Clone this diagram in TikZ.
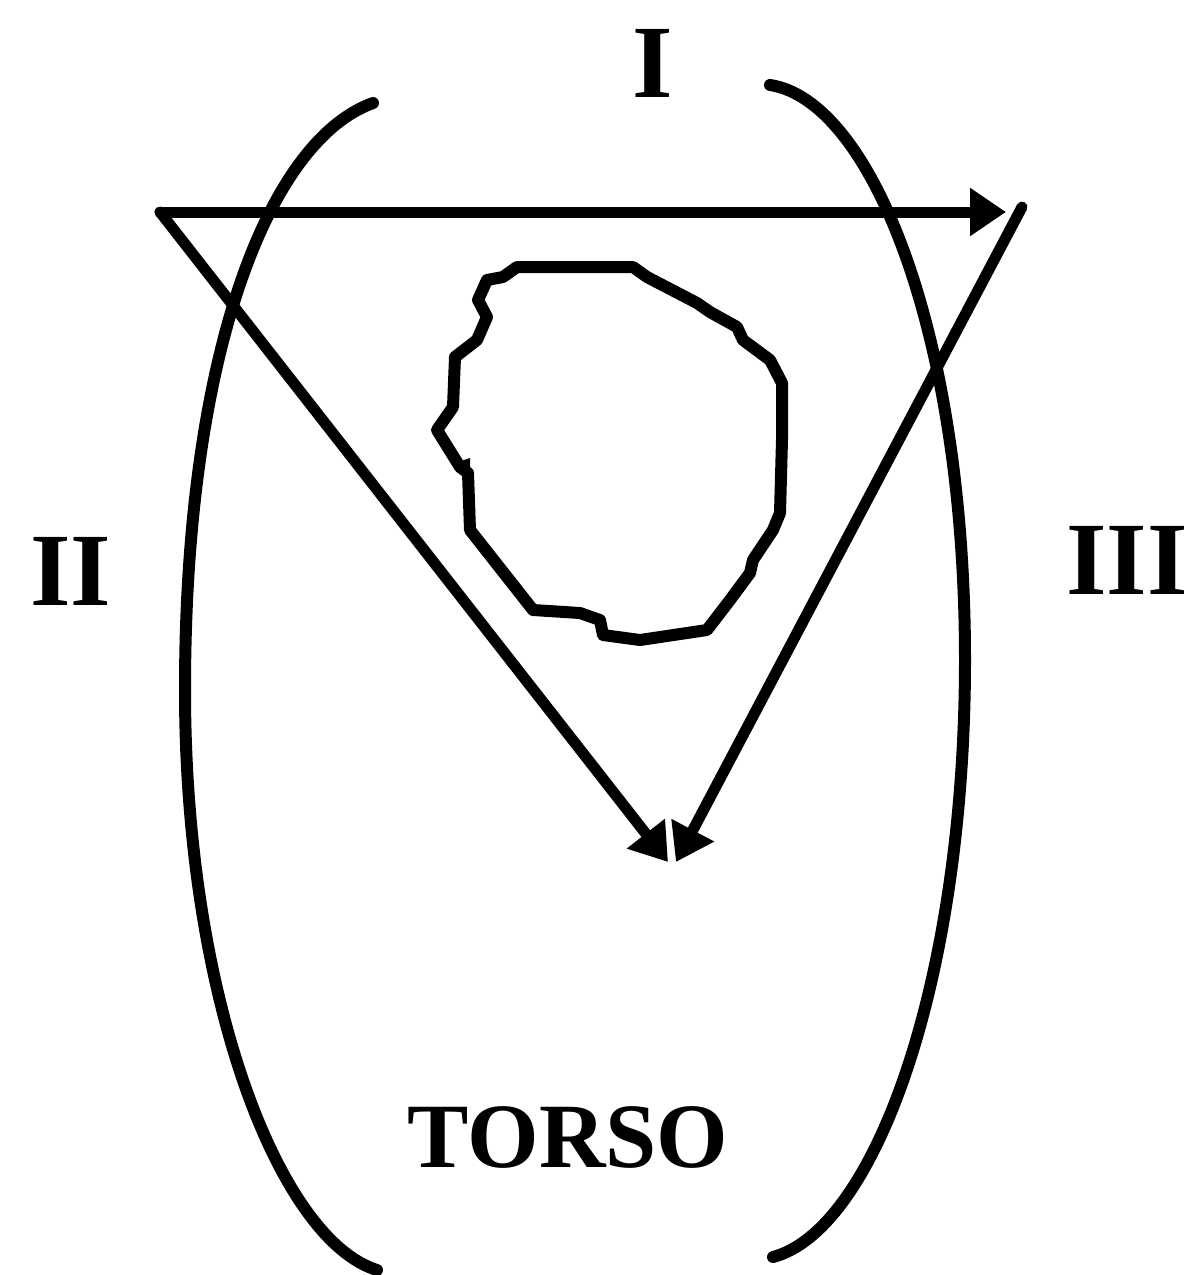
\documentclass[tikz,border=0pt]{standalone}
\usepackage{fontspec}
\setmainfont{Liberation Serif}
\usetikzlibrary{arrows.meta}
\tikzset{
  lead/.style={line width=5.5pt, line cap=round},
  bracket/.style={line width=6pt, line cap=round, line join=round},
  heart/.style={line width=6pt, line join=round},
  tip/.style={-{Triangle[length=18pt,width=23pt]}},
  numeral/.style={inner sep=0pt, font=\fontsize{52pt}{60pt}\selectfont\bfseries},
  torso/.style={inner sep=0pt, font=\fontsize{46pt}{54pt}\selectfont\bfseries}
}
\begin{document}
\begin{tikzpicture}[x=0.5pt,y=-0.5pt]
\useasboundingbox (0,0) rectangle (1190,1275);
\fill[white] (0,0) rectangle (1190,1275);

% electrodes / triangle vertices
\coordinate (RA) at (160,212);
\coordinate (LA) at (1022,207);
\coordinate (LAtip) at (1006,212);
\coordinate (LLa) at (668,862);
\coordinate (LLb) at (676,862);

% torso brackets
\draw[bracket] (373,103) .. controls (270,140) and (185,350) .. (185,690)
               .. controls (185,1000) and (280,1240) .. (377,1270);
\draw[bracket] (770,85) .. controls (870,100) and (965,330) .. (965,660)
               .. controls (965,980) and (875,1230) .. (773,1257);

% heart
\draw[heart] (517,267) -- (633,267) -- (647,277) -- (697,303) -- (710,312)
 -- (737,327) -- (743,340) -- (770,360) -- (782,383) -- (782,440) -- (780,513)
 -- (773,530) -- (753,560) -- (750,573) -- (730,600) -- (707,630) -- (640,640)
 -- (603,635) -- (600,620) -- (580,613) -- (533,610) -- (470,530) -- (468,473)
 -- (460,467) -- (437,430) -- (453,407) -- (455,357) -- (477,340) -- (487,317)
 -- (478,300) -- (487,280) -- (503,277) -- cycle;
\fill (458,462) -- (470,458) -- (470,490) -- cycle;

% leads
\draw[lead, tip] (RA) -- (LAtip);
\draw[lead, tip] (RA) -- (LLa);
\draw[lead, tip] (LA) -- (LLb);

% labels
\node[numeral] (lI) at (653,63) {I};
\node[numeral] (lII) at (71,571) {II};
\node[numeral, anchor=east] (lIII) at (1188,560) {III};
\node[torso] (torso) at (568,1137) {TORSO};
\end{tikzpicture}
\end{document}
